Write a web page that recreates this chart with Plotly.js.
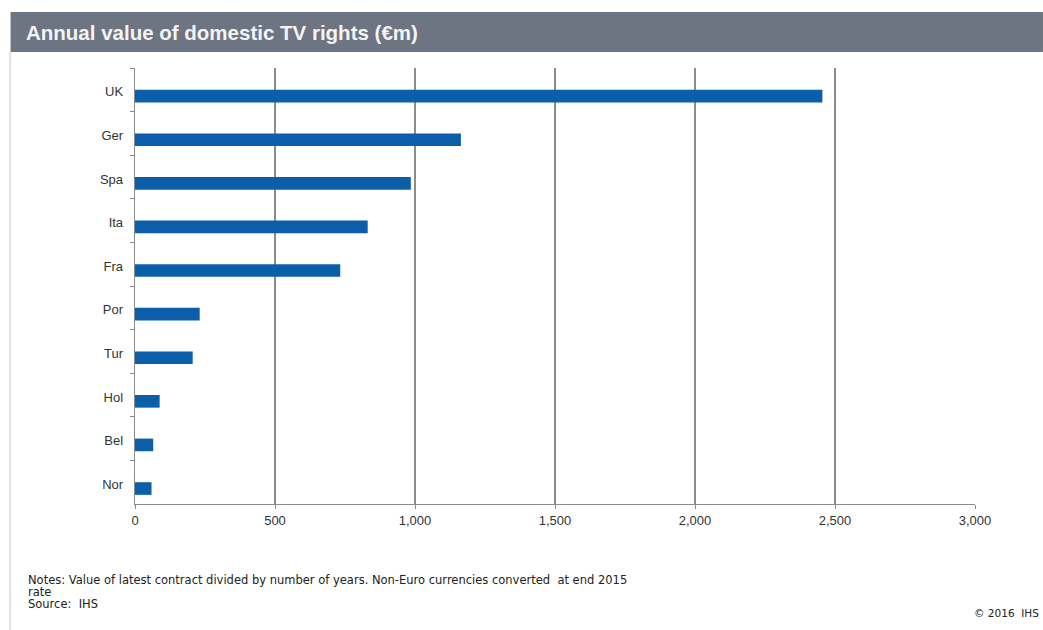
<!DOCTYPE html>
<html>
<head>
<meta charset="utf-8">
<script src="https://cdn.plot.ly/plotly-3.0.1.min.js"></script>
<style>html,body{margin:0;padding:0;background:#fff;}#chart{width:1043px;height:630px;}</style>
</head>
<body>
<div id="chart"></div>
<script>
const categories = ["UK", "Ger", "Spa", "Ita", "Fra", "Por", "Tur", "Hol", "Bel", "Nor"];
const values = [2455, 1164, 985, 831, 733, 231, 206, 88, 65, 59];
const xTickVals = [0, 500, 1000, 1500, 2000, 2500, 3000];
const xTickText = ["0", "500", "1,000", "1,500", "2,000", "2,500", "3,000"];
const titleText = "Annual value of domestic TV rights (€m)";
const noteLines = [
  "Notes: Value of latest contract divided by number of years. Non-Euro currencies converted  at end 2015",
  "rate",
  "Source:  IHS"
];
const copyrightText = "© 2016  IHS";

const W = 1043, H = 630;
const M = {l: 134.5, r: 68, t: 68, b: 126};
const PW = W - M.l - M.r, PH = H - M.t - M.b;
const px = x => (x - M.l) / PW;
const py = y => (H - M.b - y) / PH;

const FONT = "Liberation Sans, Arial, sans-serif";
const NOTEFONT = "DejaVu Sans, sans-serif";
const GRID = "#8c8c8c";

const trace = {
  type: "bar",
  orientation: "h",
  y: categories,
  x: values,
  width: 0.29,
  offset: 0.0,
  marker: {color: "#0b5ea8", line: {width: 0}},
  hoverinfo: "x+y"
};

const annotations = [
  {xref: "paper", yref: "paper", x: px(23), y: py(33), xanchor: "left", yanchor: "middle",
   text: titleText, showarrow: false, font: {family: FONT, size: 20.5, color: "#f4f4f4", weight: "bold"}},
  {xref: "paper", yref: "paper", x: px(1041), y: py(613), xanchor: "right", yanchor: "middle",
   text: copyrightText, showarrow: false, font: {family: NOTEFONT, size: 10.5, color: "#222222"}}
];
noteLines.forEach((t, i) => {
  annotations.push({xref: "paper", yref: "paper", x: px(25), y: py(580 + 12 * i), xanchor: "left", yanchor: "middle",
    align: "left", text: t, showarrow: false, font: {family: NOTEFONT, size: 11.5, color: "#222222"}});
});

const layout = {
  width: W, height: H,
  margin: M,
  paper_bgcolor: "#ffffff",
  plot_bgcolor: "#ffffff",
  showlegend: false,
  font: {family: FONT, size: 13, color: "#333333"},
  xaxis: {
    range: [0, 3000],
    tickvals: xTickVals,
    ticktext: xTickText,
    showgrid: true,
    gridcolor: GRID,
    gridwidth: 1.3,
    zeroline: false,
    showline: true,
    linecolor: GRID,
    linewidth: 1.3,
    ticks: "outside",
    ticklen: 4,
    tickcolor: GRID,
    tickfont: {family: FONT, size: 13, color: "#333333"},
    fixedrange: true
  },
  yaxis: {
    type: "category",
    autorange: "reversed",
    showgrid: false,
    zeroline: false,
    showline: true,
    linecolor: GRID,
    linewidth: 1.3,
    ticks: "outside",
    tickson: "boundaries",
    ticklen: 4,
    tickcolor: GRID,
    ticklabelstandoff: 8,
    ticklabelshift: -2,
    tickfont: {family: FONT, size: 13, color: "#333333"},
    fixedrange: true
  },
  shapes: [
    {type: "rect", xref: "paper", yref: "paper", x0: px(10), x1: px(1043), y0: py(52), y1: py(12),
     fillcolor: "#6c7581", line: {width: 0}, layer: "below"},
    {type: "line", xref: "paper", yref: "paper", x0: px(9.5), x1: px(9.5), y0: py(630), y1: py(52),
     line: {color: "#c8c8c8", width: 1}}
  ],
  annotations: annotations
};

Plotly.newPlot("chart", [trace], layout, {displayModeBar: false, staticPlot: true});
</script>
</body>
</html>
